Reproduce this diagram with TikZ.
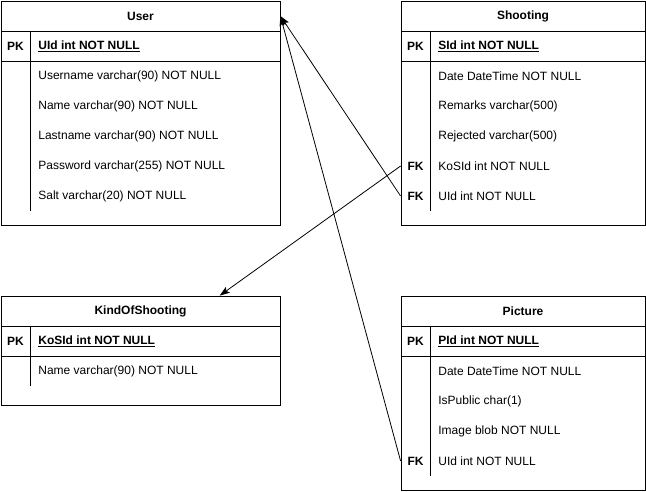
\documentclass[tikz,border=0pt]{standalone}
\usepackage{fontspec}
\setmainfont{Liberation Sans}
\usetikzlibrary{arrows.meta}
\begin{document}
\begin{tikzpicture}[x=1pt,y=-1pt,font=\fontsize{12}{14}\selectfont,line width=0.8pt,
	tbl/.style={draw,inner sep=0pt,minimum height=#1},
	ttl/.style={inner sep=0pt,minimum height=30pt,font=\fontsize{12}{14}\selectfont\bfseries},
	key/.style={inner sep=0pt,minimum width=29pt,minimum height=30pt,font=\fontsize{12}{14}\selectfont\bfseries},
	fld/.style={anchor=west,inner sep=0pt},
	pkf/.style={anchor=west,inner sep=0pt,font=\fontsize{12}{14}\selectfont\bfseries},
	rel/.style={-{Stealth[length=10pt,width=7pt,inset=2pt]}}]
	\useasboundingbox (0,0) rectangle (646,491);
	% User
	\node[tbl=224pt,minimum width=279pt] (user) at (140.5,113) {};
	\node[ttl,minimum width=279pt] (utitle) at (140.5,16) {User};
	\draw (1,31) -- (280,31) (1,61) -- (280,61) (30,31) -- (30,211);
	\node[key] (upk) at (15.5,46) {PK};
	\node[pkf] (uid) at (38,46) {\underline{UId int NOT NULL}};
	\foreach \n/\name in {1/Username varchar(90) NOT NULL,2/Name varchar(90) NOT NULL,3/Lastname varchar(90) NOT NULL,4/Password varchar(255) NOT NULL,5/Salt varchar(20) NOT NULL}
		\node[fld] (urow\n) at (38,{46+30*\n}) {\name};
	% Shooting
	\node[tbl=224pt,minimum width=244pt] (shooting) at (523,113) {};
	\node[ttl,minimum width=244pt] (stitle) at (523,16) {Shooting};
	\draw (401,31) -- (645,31) (401,61) -- (645,61) (430,31) -- (430,211);
	\node[key] (spk) at (415.5,46) {PK};
	\node[pkf] (sid) at (438,46) {\underline{SId int NOT NULL}};
	\foreach \n/\name in {1/Date DateTime NOT NULL,2/Remarks varchar(500),3/Rejected varchar(500),4/KoSId int NOT NULL,5/UId int NOT NULL}
		\node[fld] (srow\n) at (438,{46+30*\n}) {\name};
	\node[key] (sfk4) at (415.5,166) {FK};
	\node[key] (sfk5) at (415.5,196) {FK};
	% KindOfShooting
	\node[tbl=109pt,minimum width=279pt] (kind) at (140.5,350.5) {};
	\node[ttl,minimum width=279pt] (ktitle) at (140.5,311) {KindOfShooting};
	\draw (1,326) -- (280,326) (1,356) -- (280,356) (30,326) -- (30,386);
	\node[key] (kpk) at (15.5,341) {PK};
	\node[pkf] (kid) at (38,341) {\underline{KoSId int NOT NULL}};
	\node[fld] (krow1) at (38,371) {Name varchar(90) NOT NULL};
	% Picture
	\node[tbl=194pt,minimum width=244pt] (picture) at (523,393) {};
	\node[ttl,minimum width=244pt] (ptitle) at (523,311) {Picture};
	\draw (401,326) -- (645,326) (401,356) -- (645,356) (430,326) -- (430,476);
	\node[key] (ppk) at (415.5,341) {PK};
	\node[pkf] (pid) at (438,341) {\underline{PId int NOT NULL}};
	\foreach \n/\name in {1/Date DateTime NOT NULL,2/IsPublic char(1),3/Image blob NOT NULL,4/UId int NOT NULL}
		\node[fld] (prow\n) at (438,{341+30*\n}) {\name};
	\node[key] (pfk4) at (415.5,461) {FK};
	% relations
	\draw[rel] (sfk5.west) -- (utitle.east);
	\draw[rel] (pfk4.west) -- (utitle.east);
	\draw[rel] (sfk4.west) -- (ktitle.11);
\end{tikzpicture}
\end{document}
